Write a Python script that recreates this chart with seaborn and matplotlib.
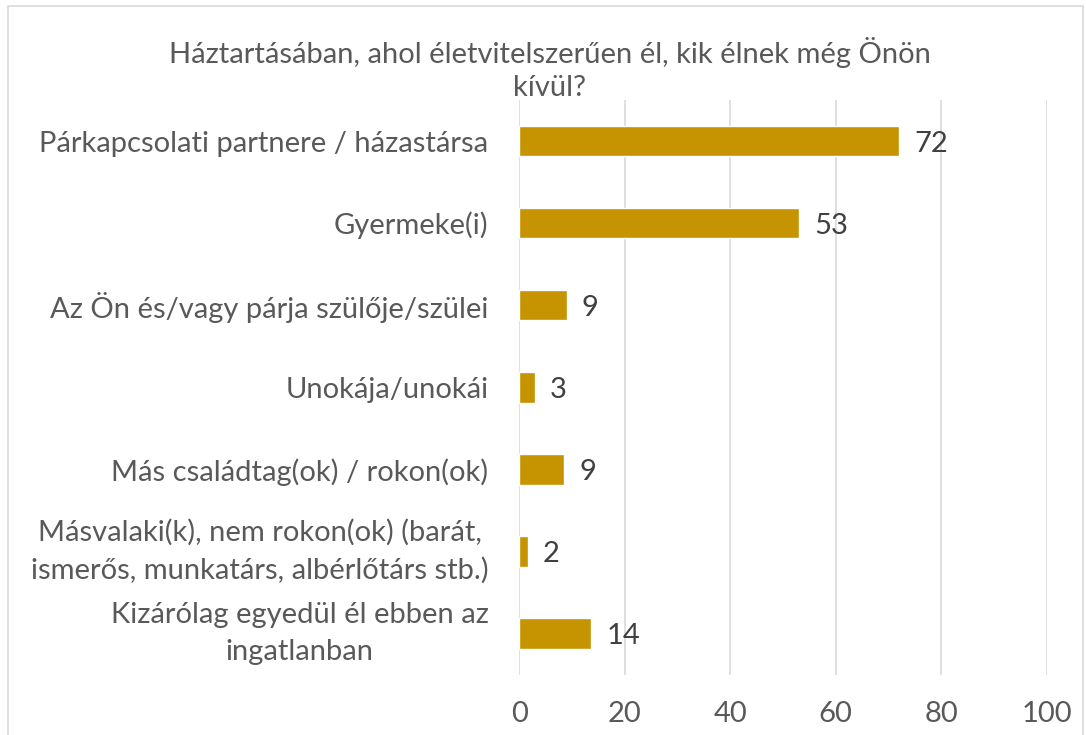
import matplotlib
matplotlib.use("Agg")
import matplotlib.pyplot as plt
import seaborn as sns
import pandas as pd
from matplotlib.patches import Rectangle

# chart values
categories = [
    "Párkapcsolati partnere / házastársa",
    "Gyermeke(i)",
    "Az Ön és/vagy párja szülője/szülei",
    "Unokája/unokái",
    "Más családtag(ok) / rokon(ok)",
    "Másvalaki(k), nem rokon(ok) (barát,\nismerős, munkatárs, albérlőtárs stb.)",
    "Kizárólag egyedül él ebben az\ningatlanban",
]
values = [72, 53, 9, 3, 8.6, 1.6, 13.6]
xticks = [0, 20, 40, 60, 80, 100]
title = "Háztartásában, ahol életvitelszerűen él, kik élnek még Önön\nkívül?"

sns.set_style("white")
plt.rcParams["font.family"] = ["Lato", "DejaVu Sans"]

df = pd.DataFrame({"cat": categories, "val": values})

fig = plt.figure(figsize=(10.86, 7.35), dpi=100)
ax = fig.add_axes([0.478, 0.082, 0.486, 0.782])

sns.barplot(data=df, y="cat", x="val", color="#C59400", width=0.37,
            saturation=1, ax=ax, orient="h")

ax.set_xlim(0, 100)
ax.set_ylim(6.5, -0.5)
ax.set_xticks(xticks)
ax.set_xlabel("")
ax.set_ylabel("")
ax.grid(axis="x", color="#D9D9D9", linewidth=1.2)
ax.set_axisbelow(True)
for s in ax.spines.values():
    s.set_visible(False)
ax.tick_params(axis="both", length=0, labelsize=21, colors="#595959")
ax.tick_params(axis="y", pad=22)
ax.tick_params(axis="x", pad=19)
ax.set_yticks(range(len(categories)))
ax.set_yticklabels(categories, multialignment="center", linespacing=1.5)
for lbl in ax.get_yticklabels():
    # wrapped labels centre on the bar as a block
    if "\n" in lbl.get_text():
        lbl.set_va("center")

for i, v in enumerate(values):
    ax.text(v + 2.9, i, f"{v:.0f}", va="center_baseline", ha="left",
            fontsize=21, color="#404040")

fig.text(0.506, 0.906, title, ha="center", va="center", fontsize=21,
         color="#595959", linespacing=1.3)

fig.patches.append(Rectangle((0.007, -0.01), 0.99, 1.002, transform=fig.transFigure,
                             fill=False, edgecolor="#D9D9D9", linewidth=1.2))

fig.savefig("out.png", dpi=100)
